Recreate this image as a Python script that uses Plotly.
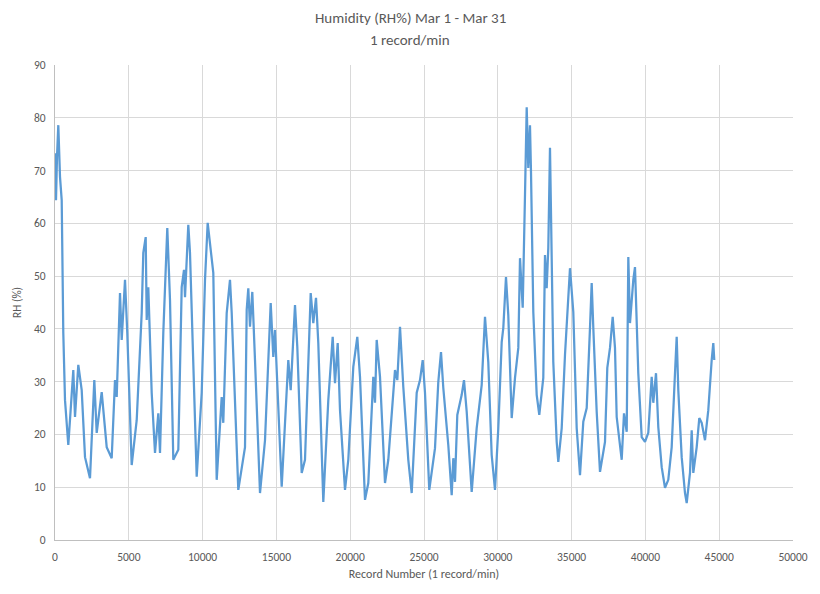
import plotly.graph_objects as go

# Record numbers (1 record/min) and relative humidity (%)
records = [
    0, 68, 136, 224, 339, 454, 562, 678, 901, 1240, 1355, 1579, 1809, 2033, 2371,
    2663, 2825, 3164, 3503, 3841, 4065, 4180, 4404, 4519, 4743, 4898, 5196, 5535,
    5874, 5982, 6145, 6213, 6321, 6551, 6775, 6999, 7114, 7337, 7608, 7791, 8015,
    8354, 8584, 8740, 8808, 9031, 9146, 9370, 9600, 9939, 10163, 10345, 10501,
    10725, 10955, 11294, 11402, 11633, 11856, 11972, 12419, 12873, 12988, 13096,
    13211, 13367, 13550, 13889, 14228, 14451, 14614, 14790, 14905, 15359, 15806,
    15969, 16260, 16416, 16714, 16938, 17161, 17324, 17500, 17683, 17839, 18178,
    18516, 18679, 18814, 18970, 19153, 19309, 19648, 19871, 20210, 20481, 20664,
    21003, 21226, 21565, 21680, 21795, 22019, 22358, 22581, 23035, 23191, 23374,
    23598, 23936, 24167, 24506, 24729, 24912, 25068, 25358, 25745, 25968, 26152,
    26308, 26646, 26876, 26985, 27100, 27256, 27554, 27710, 27893, 28231, 28570,
    28909, 29133, 29356, 29586, 29810, 30034, 30264, 30373, 30555, 30711, 30941,
    31165, 31389, 31504, 31687, 31843, 31958, 32066, 32181, 32249, 32405, 32635,
    32811, 33082, 33197, 33312, 33421, 33536, 33604, 33760, 33990, 34099, 34329,
    34553, 34891, 35115, 35345, 35569, 35793, 36023, 36246, 36361, 36470, 36700,
    36924, 37263, 37419, 37601, 37784, 37940, 38055, 38279, 38394, 38550, 38733,
    38842, 38956, 39180, 39295, 39519, 39749, 39973, 40196, 40427, 40535, 40718,
    40874, 41104, 41328, 41551, 41781, 42005, 42120, 42229, 42459, 42683, 42798,
    43021, 43137, 43245, 43475, 43651, 43814, 44038, 44261, 44491, 44600, 44667,
]
humidity = [
    73.3, 64.4, 72.6, 78.6, 68.8, 64.4, 39.2, 26.5, 18.0, 32.2, 23.3, 33.2, 28.4,
    15.7, 11.7, 30.3, 20.3, 28.0, 17.6, 15.5, 30.3, 27.1, 46.8, 37.9, 49.3, 39.2,
    14.2, 22.7, 43.0, 54.4, 57.4, 41.7, 47.9, 27.9, 16.5, 24.0, 16.5, 39.2, 59.1,
    45.5, 15.2, 17.1, 47.9, 51.2, 46.0, 59.7, 54.4, 32.8, 12.0, 27.9, 49.3, 60.1,
    56.3, 50.6, 11.4, 27.1, 22.2, 43.0, 49.3, 43.0, 9.5, 17.6, 43.6, 47.7, 40.4,
    47.0, 34.1, 8.9, 18.9, 34.1, 44.9, 34.7, 39.8, 10.1, 34.1, 28.4, 44.5, 36.6,
    12.7, 15.2, 34.1, 46.8, 41.1, 45.9, 37.3, 7.2, 26.5, 33.5, 38.5, 29.7, 37.3,
    24.6, 9.5, 15.2, 32.8, 38.5, 30.9, 7.6, 10.8, 30.9, 26.0, 37.9, 30.9, 10.8,
    15.2, 32.2, 30.3, 40.4, 29.0, 15.2, 8.9, 27.9, 30.3, 34.1, 27.9, 9.5, 17.4,
    29.9, 35.6, 28.8, 18.0, 8.5, 15.5, 11.0, 23.7, 27.5, 30.3, 24.3, 9.1, 21.2,
    29.4, 42.3, 33.7, 16.1, 9.5, 21.2, 37.5, 40.2, 49.8, 42.6, 23.1, 30.7, 36.4,
    53.4, 44.0, 65.4, 82.0, 70.5, 78.6, 69.7, 43.2, 27.5, 23.7, 30.7, 54.0, 47.7,
    55.3, 74.3, 59.1, 33.7, 18.6, 14.8, 21.2, 35.1, 51.5, 43.2, 21.2, 12.3, 22.4,
    25.0, 40.2, 48.7, 40.2, 24.3, 12.9, 18.6, 32.6, 36.4, 42.3, 36.4, 23.3, 17.6,
    15.2, 24.0, 20.5, 53.6, 41.1, 49.3, 51.7, 31.6, 19.5, 18.6, 20.3, 30.9, 26.0,
    31.6, 21.4, 13.8, 9.9, 11.4, 17.6, 31.6, 38.5, 28.4, 15.7, 8.9, 7.0, 12.7,
    20.8, 12.7, 17.6, 23.1, 22.2, 18.9, 24.6, 34.1, 37.3, 34.1,
]

x_ticks = [0, 5000, 10000, 15000, 20000, 25000, 30000, 35000, 40000, 45000, 50000]
y_ticks = [0, 10, 20, 30, 40, 50, 60, 70, 80, 90]
title_lines = ["Humidity (RH%) Mar 1 - Mar 31", "1 record/min"]

FONT = "Calibri, Carlito, 'Liberation Sans Narrow', 'Open Sans', sans-serif"
GREY = "#595959"
GRID = "#d9d9d9"

fig = go.Figure(
    go.Scatter(
        x=records, y=humidity, mode="lines",
        line=dict(color="#5B9BD5", width=2.25),
        hoverinfo="x+y", showlegend=False,
    )
)

fig.update_layout(
    width=820, height=594,
    margin=dict(l=55, r=27, t=65, b=54),
    paper_bgcolor="white", plot_bgcolor="white",
    font=dict(family=FONT, color=GREY, size=12),
)

# Two-line chart title, centred on the page
for text, ypos in zip(title_lines, [1.099, 1.053]):
    fig.add_annotation(
        text=text, xref="paper", yref="paper",
        x=(410 - 55) / 738, y=ypos, xanchor="center", yanchor="middle",
        showarrow=False, font=dict(family=FONT, size=15, color=GREY),
    )

fig.update_xaxes(
    range=[0, 50000], tickvals=x_ticks, ticktext=[str(v) for v in x_ticks],
    showgrid=True, gridcolor=GRID, gridwidth=1,
    showline=True, linecolor="#bfbfbf", linewidth=1,
    zeroline=False, ticks="", ticklabelstandoff=6,
    tickfont=dict(family=FONT, size=11.5, color=GREY),
    title=dict(text="Record Number (1 record/min)", standoff=6,
               font=dict(family=FONT, size=12, color=GREY)),
)
fig.update_yaxes(
    range=[0, 90], tickvals=y_ticks,
    showgrid=True, gridcolor=GRID, gridwidth=1,
    showline=True, linecolor="#bfbfbf", linewidth=1,
    zeroline=False, ticks="", ticklabelstandoff=6,
    tickfont=dict(family=FONT, size=11.5, color=GREY),
    title=dict(text="RH (%)", standoff=10,
               font=dict(family=FONT, size=11.5, color=GREY)),
)

fig.write_html("out.html")
